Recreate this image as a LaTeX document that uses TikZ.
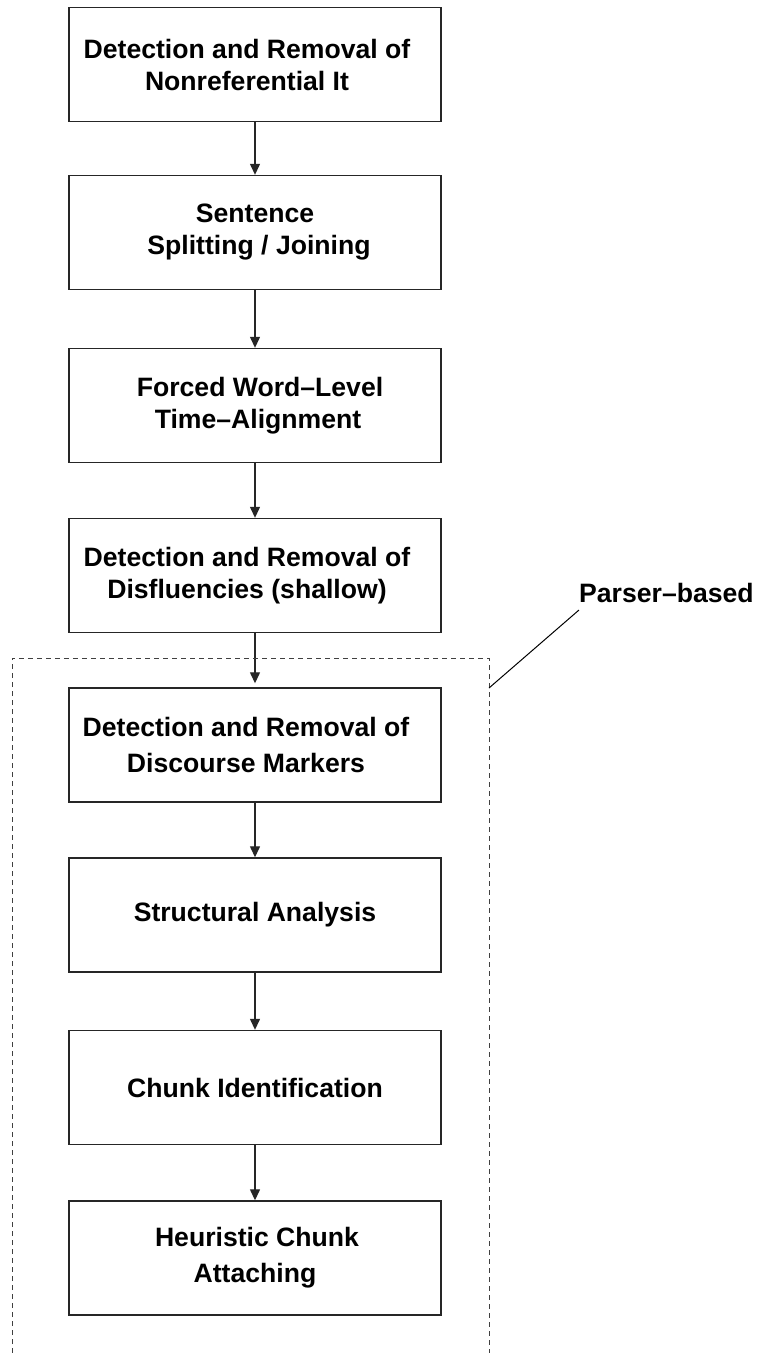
\documentclass[tikz,border=0pt]{standalone}
\usepackage{fontspec}
\setmainfont{Liberation Sans}
\usetikzlibrary{arrows.meta}
\begin{document}
\begin{tikzpicture}[x=1pt,y=-1pt,
  stagebox/.style={draw, line width=1.4pt, draw=black!85, minimum width=372pt, minimum height=114pt, inner sep=0pt,
    align=center, font=\fontsize{26.6}{32}\selectfont\bfseries},
  lowerbox/.style={stagebox, font=\fontsize{26.6}{36}\selectfont\bfseries},
  flow/.style={line width=1.3pt, draw=black!85, -{Triangle[length=11pt,width=10pt]}},
  region/.style={line width=1pt, dash pattern=on 5pt off 4pt, black!75},
  lbl/.style={font=\fontsize{26.6}{30}\selectfont\bfseries, inner sep=0pt}]
\useasboundingbox (0,0) rectangle (761,1353);
\node[stagebox] (b1) at (255,64.5) {Detection and Removal of\hspace*{16pt}\\Nonreferential It\hspace*{16pt}};
\node[stagebox] (b2) at (255,232.5) {Sentence\\\hspace*{8pt}Splitting / Joining};
\node[stagebox] (b3) at (255,405.5) {\hspace*{10pt}Forced Word\textendash Level\\\hspace*{6pt}Time\textendash Alignment};
\node[stagebox] (b4) at (255,575.5) {Detection and Removal of\hspace*{16pt}\\Disfluencies (shallow)\hspace*{16pt}};
\node[lowerbox] (b5) at (255,745) {Detection and Removal of\hspace*{18pt}\\Discourse Markers\hspace*{18pt}};
\node[lowerbox] (b6) at (255,915) {Structural Analysis};
\node[lowerbox] (b7) at (255,1087.5) {Chunk Identification};
\node[lowerbox] (b8) at (255,1258) {\hspace*{4pt}Heuristic Chunk\\Attaching};
\draw[flow] (b1.south) -- (b2.north);
\draw[flow] (b2.south) -- (b3.north);
\draw[flow] (b3.south) -- (b4.north);
\draw[flow] (b4.south) -- ([yshift=4pt]b5.north);
\draw[flow] (b5.south) -- (b6.north);
\draw[flow] (b6.south) -- (b7.north);
\draw[flow] (b7.south) -- (b8.north);
\coordinate (dl) at (12,1353);
\coordinate (dtl) at (12,658);
\coordinate (dtr) at (489,658);
\coordinate (dr) at (489,1353);
\draw[region] (dl) -- (dtl) -- (dtr) -- (dr);
\node[lbl, anchor=base west] (pb) at (579,602) {Parser\textendash based};
\coordinate (lineA) at (489,688);
\coordinate (lineB) at (579,610);
\draw[line width=1pt] (lineA) -- (lineB);
\end{tikzpicture}
\end{document}
